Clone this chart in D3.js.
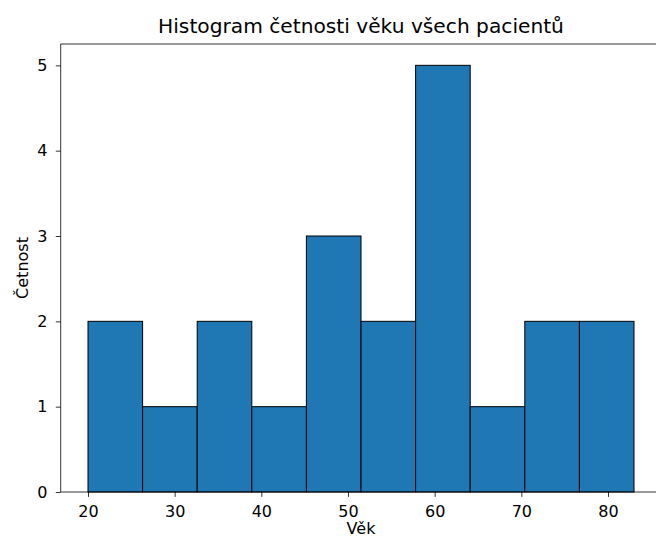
<!DOCTYPE html>
<html>
<head>
<meta charset="utf-8">
<script src="https://cdn.jsdelivr.net/npm/d3@7"></script>
<style>
  html, body { margin: 0; padding: 0; background: #fff; }
  svg { display: block; font-family: "DejaVu Sans", sans-serif; }
</style>
</head>
<body>
<svg id="chart" width="656" height="538"></svg>
<script>
// Histogram bins (age) and their counts
const binEdges = [20, 26.3, 32.6, 38.9, 45.2, 51.5, 57.8, 64.1, 70.4, 76.7, 83];
const counts = [2, 1, 2, 1, 3, 2, 5, 1, 2, 2];
const xTicks = [20, 30, 40, 50, 60, 70, 80];
const yTicks = [0, 1, 2, 3, 4, 5];

const titleText = "Histogram četnosti věku všech pacientů";
const xLabel = "Věk";
const yLabel = "Četnost";

const svg = d3.select("#chart");
const plotL = 60.7, plotR = 661.3, plotT = 44, plotB = 492;
const tickFont = "16px", titleFont = "20.2px";

const xMin = binEdges[0], xMax = binEdges[binEdges.length - 1];
const xPad = (xMax - xMin) * 0.05;
const x = d3.scaleLinear().domain([xMin - xPad, xMax + xPad]).range([plotL, plotR]);
const yMax = d3.max(counts) * 1.05;
const y = d3.scaleLinear().domain([0, yMax]).range([plotB, plotT]);

const bins = counts.map((c, i) => ({ x0: binEdges[i], x1: binEdges[i + 1], c }));

svg.append("g").selectAll("rect").data(bins).join("rect")
  .attr("x", d => x(d.x0))
  .attr("y", d => y(d.c))
  .attr("width", d => x(d.x1) - x(d.x0))
  .attr("height", d => y(0) - y(d.c))
  .attr("fill", "#1f77b4")
  .attr("stroke", "#000")
  .attr("stroke-width", 1);

// Spines
const spine = svg.append("g").attr("stroke", "#000").attr("stroke-width", 0.8).attr("fill", "none");
spine.append("line").attr("x1", plotL).attr("x2", plotL).attr("y1", plotT).attr("y2", plotB);
spine.append("line").attr("x1", plotL).attr("x2", plotR).attr("y1", plotB).attr("y2", plotB);
spine.append("line").attr("x1", plotL).attr("x2", plotR).attr("y1", plotT).attr("y2", plotT);
spine.append("line").attr("x1", plotR).attr("x2", plotR).attr("y1", plotT).attr("y2", plotB);

// Axes
const xAxis = d3.axisBottom(x).tickValues(xTicks).tickSize(4.9).tickPadding(8.4).tickFormat(d3.format("d"));
const gx = svg.append("g").attr("transform", `translate(0,${plotB})`).call(xAxis);
const yAxis = d3.axisLeft(y).tickValues(yTicks).tickSize(4.9).tickPadding(8.3).tickFormat(d3.format("d"));
const gy = svg.append("g").attr("transform", `translate(${plotL},0)`).call(yAxis);
[gx, gy].forEach(g => {
  g.select(".domain").remove();
  g.selectAll(".tick line").attr("stroke", "#000").attr("stroke-width", 0.8);
  g.selectAll(".tick text").attr("fill", "#000").style("font-size", tickFont)
    .style("font-family", "'DejaVu Sans', sans-serif");
});

svg.append("text")
  .attr("x", (plotL + plotR) / 2).attr("y", 33)
  .attr("text-anchor", "middle")
  .style("font-size", titleFont).attr("fill", "#000")
  .text(titleText);

svg.append("text")
  .attr("x", (plotL + plotR) / 2).attr("y", 534)
  .attr("text-anchor", "middle")
  .style("font-size", tickFont).attr("fill", "#000")
  .text(xLabel);

svg.append("text")
  .attr("transform", `translate(28,${(plotT + plotB) / 2}) rotate(-90)`)
  .attr("text-anchor", "middle")
  .style("font-size", tickFont).attr("fill", "#000")
  .text(yLabel);
</script>
</body>
</html>
